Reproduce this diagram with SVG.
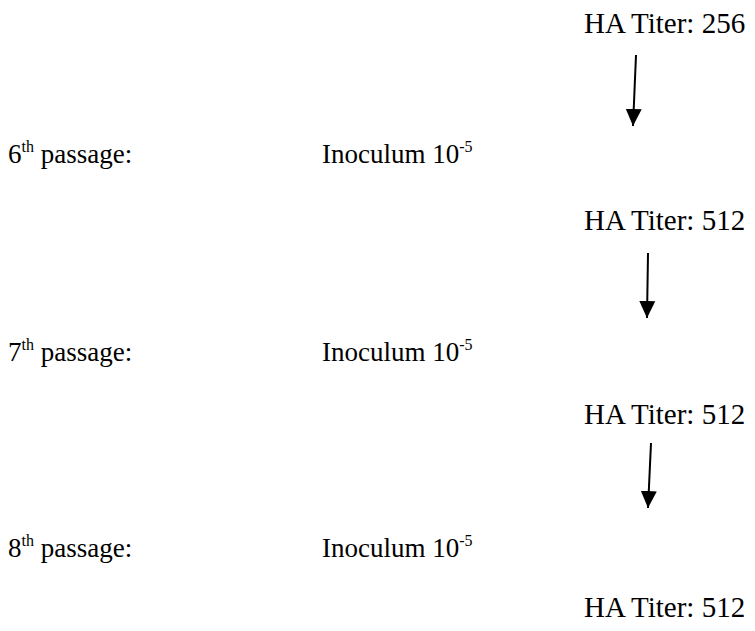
<svg xmlns="http://www.w3.org/2000/svg" width="755" height="631" viewBox="0 0 755 631">
<style>
text{font-family:"Liberation Serif","Times New Roman",serif;font-size:27px;fill:#000}
.ha{font-size:29px}
.sup{font-size:16px}
.conn line{stroke:#000;stroke-width:2}
</style>
<defs>
<marker id="ah" markerUnits="userSpaceOnUse" markerWidth="17" markerHeight="17" viewBox="0 0 17 17" refX="17" refY="8.5" orient="auto">
<path d="M0,0.5 L17,8.5 L0,16.5 Z" fill="#000"/>
</marker>
</defs>
<rect width="755" height="631" fill="#fff"/>
<g id="titer1"><text class="ha" x="584" y="33">HA Titer: 256</text></g>
<g id="p6"><text x="8" y="163">6<tspan class="sup" dy="-11">th</tspan><tspan dy="11"> passage:</tspan></text></g>
<g id="inoc6"><text x="322" y="163">Inoculum 10<tspan class="sup" dy="-11">-5</tspan></text></g>
<g id="titer2"><text class="ha" x="584" y="230">HA Titer: 512</text></g>
<g id="p7"><text x="8" y="361">7<tspan class="sup" dy="-11">th</tspan><tspan dy="11"> passage:</tspan></text></g>
<g id="inoc7"><text x="322" y="361">Inoculum 10<tspan class="sup" dy="-11">-5</tspan></text></g>
<g id="titer3"><text class="ha" x="584" y="424">HA Titer: 512</text></g>
<g id="p8"><text x="8" y="557">8<tspan class="sup" dy="-11">th</tspan><tspan dy="11"> passage:</tspan></text></g>
<g id="inoc8"><text x="322" y="557">Inoculum 10<tspan class="sup" dy="-11">-5</tspan></text></g>
<g id="titer4"><text class="ha" x="584" y="617">HA Titer: 512</text></g>
<g class="conn" id="connectors">
<line x1="636" y1="55" x2="633" y2="126" marker-end="url(#ah)"/>
<line x1="648" y1="253" x2="647" y2="318" marker-end="url(#ah)"/>
<line x1="651" y1="443" x2="648" y2="508" marker-end="url(#ah)"/>
</g>
</svg>
